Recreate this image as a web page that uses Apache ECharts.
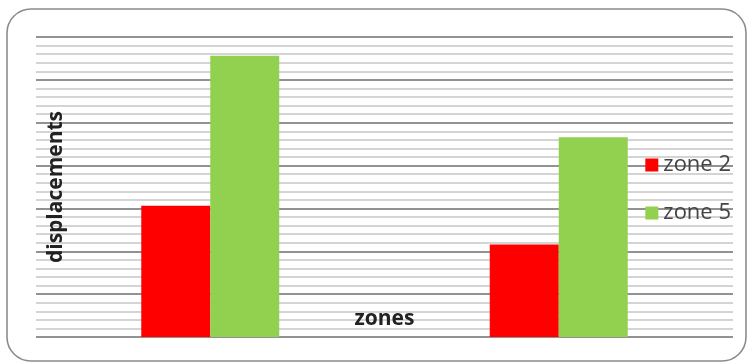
<!DOCTYPE html>
<html>
<head>
<meta charset="utf-8">
<script src="https://cdn.jsdelivr.net/npm/echarts@6/dist/echarts.min.js"></script>
<style>
  html, body { margin: 0; padding: 0; background: #fff; }
  #chart { width: 750px; height: 364px; }
</style>
</head>
<body>
<div id="chart"></div>
<script>
// Displacement per zone, two zone series
const categories = ['1', '2'];
const zone2Values = [15.3, 10.8];
const zone5Values = [32.8, 23.3];
const seriesNames = ['zone 2', 'zone 5'];
const axisMax = 35;
const axisInterval = 5;

const chart = echarts.init(document.getElementById('chart'), null, { renderer: 'canvas' });

const font = '"Open Sans", "Noto Sans", sans-serif';

chart.setOption({
  animation: false,
  backgroundColor: '#ffffff',
  graphic: [{
    type: 'rect',
    shape: { x: 7, y: 9, width: 739, height: 352, r: 24 },
    style: { fill: 'none', stroke: '#8c8c8c', lineWidth: 1.6 },
    z: -10
  }],
  grid: { left: 36, right: 17, top: 37, bottom: 27, containLabel: false },
  legend: {
    orient: 'vertical',
    right: 14,
    top: 149,
    itemWidth: 13,
    itemHeight: 13,
    itemGap: 26,
    icon: 'rect',
    textStyle: { fontFamily: font, fontSize: 22, color: '#444444', padding: [0, 0, 0, 0] },
    data: seriesNames
  },
  xAxis: {
    type: 'category',
    data: categories,
    name: 'zones',
    nameLocation: 'middle',
    nameGap: -28,
    nameTextStyle: { fontFamily: font, fontSize: 21, fontWeight: 'bold', color: '#222' },
    axisLine: { show: false },
    axisTick: { show: false },
    axisLabel: { show: false }
  },
  yAxis: {
    type: 'value',
    min: 0,
    max: axisMax,
    interval: axisInterval,
    name: 'displacements',
    nameLocation: 'middle',
    nameRotate: 90,
    nameGap: -31,
    nameTextStyle: { fontFamily: font, fontSize: 21, fontWeight: 'bold', color: '#222' },
    axisLine: { show: false },
    axisTick: { show: false },
    axisLabel: { show: false },
    splitLine: { show: true, lineStyle: { color: '#6e6e6e', width: 1.5 } },
    minorTick: { show: false, splitNumber: 5 },
    minorSplitLine: { show: true, lineStyle: { color: '#d4d4d4', width: 2 } }
  },
  series: [
    {
      name: seriesNames[0],
      type: 'bar',
      data: zone2Values,
      itemStyle: { color: '#ff0000' },
      barWidth: 69,
      barGap: '0%',
      z: 3
    },
    {
      name: seriesNames[1],
      type: 'bar',
      data: zone5Values,
      itemStyle: { color: '#92d050' },
      barWidth: 69,
      barGap: '0%',
      z: 3
    }
  ]
});
</script>
</body>
</html>
